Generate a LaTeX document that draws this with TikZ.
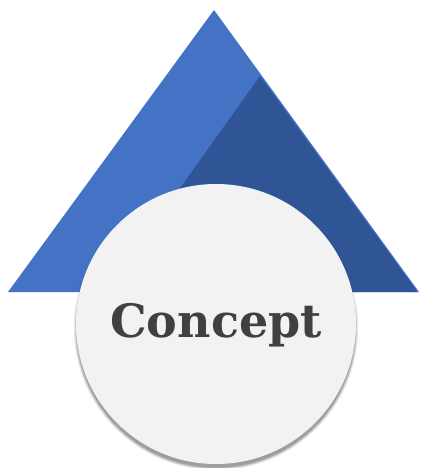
\documentclass[tikz,border=0pt]{standalone}
\usepackage{fontspec}
\newfontfamily\conceptfont{DejaVu Serif}
\begin{document}
\begin{tikzpicture}[x=1pt,y=-1pt]
\definecolor{blueA}{HTML}{4472C4}
\definecolor{blueB}{HTML}{2F5597}
\definecolor{circfill}{HTML}{F2F2F2}
\definecolor{txt}{HTML}{404040}
\tikzset{lightpart/.style={fill=blueA},darkpart/.style={fill=blueB},
  disc/.style={circle,fill=circfill,minimum size=280pt,inner sep=0pt}}
\useasboundingbox[fill=white] (0,0) rectangle (421,468);
\coordinate (apex) at (214,10);
\coordinate (bl) at (8,292);
\coordinate (br) at (419,292);
\coordinate (dtop) at (260,76);
\coordinate (dbl) at (106,292);
\fill[lightpart] (apex) -- (br) -- (bl) -- cycle;
\fill[darkpart] (dtop) -- ([xshift=-1.5pt]br) -- (dbl) -- cycle;
% shadow
\foreach \r/\o in {142.5/0.03,142/0.04,141.5/0.05,141/0.06,140.5/0.07,140/0.09,139.5/0.1}{
  \fill[black,opacity=\o] (216,328) circle (\r);
}
\node[disc] (c) at (216,324) {};
\node[anchor=base,text=txt,inner sep=0pt,font=\conceptfont\bfseries\fontsize{46}{46}\selectfont] (t) at (216,337) {Concept};
\end{tikzpicture}
\end{document}
